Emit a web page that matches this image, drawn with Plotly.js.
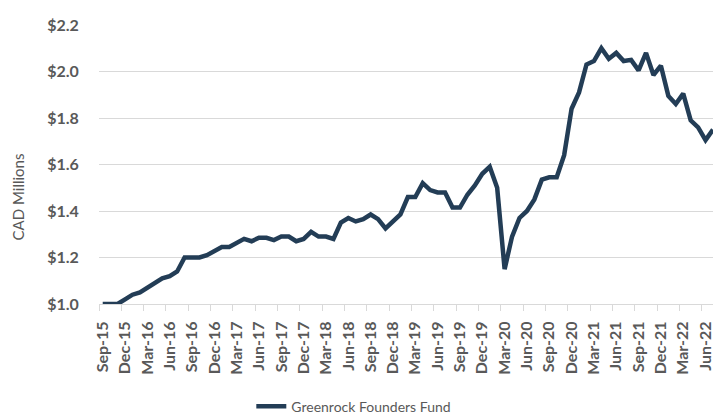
<!DOCTYPE html>
<html>
<head>
<meta charset="utf-8">
<script src="https://cdn.plot.ly/plotly-3.0.1.min.js"></script>
<style>html,body{margin:0;padding:0;background:#fff;}#chart{width:713px;height:415px;}</style>
</head>
<body>
<div id="chart"></div>
<script>
const months = ["Sep-15","Oct-15","Nov-15","Dec-15","Jan-16","Feb-16","Mar-16","Apr-16","May-16","Jun-16","Jul-16","Aug-16",
"Sep-16","Oct-16","Nov-16","Dec-16","Jan-17","Feb-17","Mar-17","Apr-17","May-17","Jun-17","Jul-17","Aug-17",
"Sep-17","Oct-17","Nov-17","Dec-17","Jan-18","Feb-18","Mar-18","Apr-18","May-18","Jun-18","Jul-18","Aug-18",
"Sep-18","Oct-18","Nov-18","Dec-18","Jan-19","Feb-19","Mar-19","Apr-19","May-19","Jun-19","Jul-19","Aug-19",
"Sep-19","Oct-19","Nov-19","Dec-19","Jan-20","Feb-20","Mar-20","Apr-20","May-20","Jun-20","Jul-20","Aug-20",
"Sep-20","Oct-20","Nov-20","Dec-20","Jan-21","Feb-21","Mar-21","Apr-21","May-21","Jun-21","Jul-21","Aug-21",
"Sep-21","Oct-21","Nov-21","Dec-21","Jan-22","Feb-22","Mar-22","Apr-22","May-22","Jun-22","Jul-22"];
const fundValues = [1.00,1.00,1.00,1.02,1.04,1.05,1.07,1.09,1.11,1.12,1.14,1.20,
1.20,1.20,1.21,1.23,1.245,1.245,1.26,1.28,1.27,1.285,1.285,1.275,
1.29,1.29,1.27,1.28,1.31,1.29,1.29,1.28,1.35,1.37,1.355,1.365,
1.385,1.365,1.325,1.355,1.385,1.46,1.46,1.52,1.49,1.48,1.48,1.415,
1.415,1.47,1.51,1.56,1.59,1.50,1.15,1.29,1.37,1.40,1.45,1.535,
1.545,1.545,1.64,1.84,1.91,2.03,2.045,2.10,2.055,2.08,2.045,2.05,
2.005,2.08,1.985,2.025,1.895,1.86,1.905,1.79,1.76,1.705,1.75];
const tickLabels = ["Sep-15","Dec-15","Mar-16","Jun-16","Sep-16","Dec-16","Mar-17","Jun-17","Sep-17","Dec-17","Mar-18","Jun-18","Sep-18","Dec-18","Mar-19","Jun-19","Sep-19","Dec-19","Mar-20","Jun-20","Sep-20","Dec-20","Mar-21","Jun-21","Sep-21","Dec-21","Mar-22","Jun-22"];
const yTicks = [1.0,1.2,1.4,1.6,1.8,2.0,2.2];
const seriesName = "Greenrock Founders Fund";
const yTitle = "CAD Millions";

const idx = months.map((m,i)=>i);
const tickIdx = tickLabels.map(l => months.indexOf(l));
const boundaries = tickIdx.map(i => i - 0.5).concat([tickIdx[tickIdx.length-1] + 2.5]);

const gray = "#595959";
const font = "Lato, 'Liberation Sans', sans-serif";

Plotly.newPlot("chart", [{
  x: idx, y: fundValues, type: "scatter", mode: "lines", name: seriesName,
  line: {color: "#233d56", width: 4.5, shape: "linear"}
}], {
  width: 713, height: 415,
  margin: {l: 99, r: 0, t: 25, b: 111},
  paper_bgcolor: "#fff", plot_bgcolor: "#fff",
  font: {family: font, color: gray},
  showlegend: true,
  legend: {orientation: "h", x: 0.415, xanchor: "center", yref: "container", y: 0.02, yanchor: "middle",
           font: {size: 14, color: gray, family: font}},
  xaxis: {
    range: [-0.5, months.length - 1], tickmode: "array", tickvals: tickIdx, ticktext: tickLabels,
    tickangle: -90, tickfont: {size: 16, color: gray, family: font, weight: "bold"},
    ticklabeloverflow: "allow",
    ticks: "outside", ticklen: 10, tickcolor: "rgba(0,0,0,0)", showgrid: false, zeroline: false,
    showline: true, linecolor: "#d9d9d9", linewidth: 1,
    minor: {tickmode: "array", tickvals: boundaries, ticks: "outside", ticklen: 6, tickcolor: "#d9d9d9", tickwidth: 1, showgrid: false}
  },
  yaxis: {
    range: [1.0, 2.2], tickmode: "array", tickvals: yTicks, ticktext: yTicks.map(v => "$" + v.toFixed(1)),
    tickfont: {size: 16, color: gray, family: font, weight: "bold"},
    showgrid: true, gridcolor: "#d9d9d9", gridwidth: 1, zeroline: false, showline: false,
    ticks: "outside", ticklen: 16, tickcolor: "rgba(0,0,0,0)"
  },
  annotations: [{
    text: yTitle, xref: "paper", yref: "paper", x: (17.5 - 99) / 614, y: (304.3 - 197) / 279.6,
    xanchor: "center", yanchor: "middle", textangle: -90, showarrow: false,
    font: {size: 15, color: gray, family: font}
  }]
}, {displayModeBar: false, staticPlot: true});
</script>
</body>
</html>
